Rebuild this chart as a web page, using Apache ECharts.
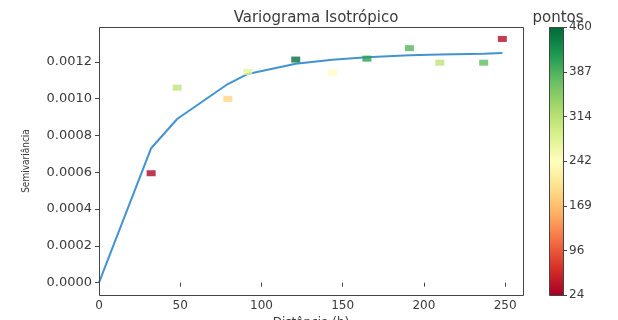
<!DOCTYPE html>
<html>
<head>
<meta charset="utf-8">
<script src="https://cdn.jsdelivr.net/npm/echarts@6/dist/echarts.min.js"></script>
<style>
  html, body { margin: 0; padding: 0; background: #fff; }
  #chart { width: 618px; height: 320px; }
</style>
</head>
<body>
<div id="chart"></div>
<script>
// Experimental variogram: lag distance, semivariance and number of point pairs per lag
const lagDist = [32.1, 48.1, 79.3, 91.6, 121.1, 143.6, 164.9, 191.1, 209.8, 236.8, 248.3];
const semivar = [0.000595, 0.00106, 0.000999, 0.001146, 0.001213, 0.001142, 0.001218, 0.001275, 0.001196, 0.001196, 0.001325];
const pairCount = [30, 307, 190, 272, 451, 245, 408, 382, 310, 375, 35];

// Fitted model evaluated at the origin and at each lag
const modelDist = [0, 32.1, 48.1, 79.3, 91.6, 121.1, 143.6, 164.9, 191.1, 209.8, 236.8, 248.3];
const modelVal = [0, 0.000731, 0.00089, 0.00108, 0.001135, 0.00119, 0.001212, 0.001225, 0.001236, 0.00124, 0.001245, 0.001249];

const yTicks = [0, 0.0002, 0.0004, 0.0006, 0.0008, 0.0010, 0.0012];
const cbTicks = [24, 96, 169, 242, 314, 387, 460];
const cbMin = 24, cbMax = 460;

// RdYlGn colormap
const rdYlGn = ['#a50026', '#d73027', '#f46d43', '#fdae61', '#fee08b', '#ffffbf',
                '#d9ef8b', '#a6d96a', '#66bd63', '#1a9850', '#006837'];

const font = 'DejaVu Sans';
const ink = '#3a3a3a';
const edge = '#444';
const spine = { show: true, onZero: false, lineStyle: { color: edge, width: 1 } };

// panel boxes: main plot and colour bar
const plotBox = { left: 99, top: 27, width: 424, height: 268 };
const barBox = { left: 549, top: 27, width: 14, height: 268 };

// outline drawn in absolute pixels, half-pixel aligned for a crisp 1px stroke
function frame(box) {
  return {
    type: 'rect', z: 100, silent: true,
    shape: { x: box.left + 0.5, y: box.top + 0.5, width: box.width, height: box.height },
    style: { fill: 'none', stroke: edge, lineWidth: 1 }
  };
}

const chart = echarts.init(document.getElementById('chart'));

const scatterData = lagDist.map((d, i) => [d, semivar[i], pairCount[i]]);
const lineData = modelDist.map((d, i) => [d, modelVal[i]]);

chart.setOption({
  animation: false,
  backgroundColor: '#ffffff',
  title: [
    { text: 'Variograma Isotrópico', left: 311, top: 6, textAlign: 'center',
      textStyle: { fontFamily: font, fontSize: 15, fontWeight: 'normal', color: ink } },
    { text: 'pontos', left: 553, top: 6, textAlign: 'center',
      textStyle: { fontFamily: font, fontSize: 15, fontWeight: 'normal', color: ink } }
  ],
  grid: [
    Object.assign({ outerBoundsMode: 'none' }, plotBox),
    Object.assign({ outerBoundsMode: 'none' }, barBox)
  ],
  graphic: [frame(plotBox), frame(barBox)],
  xAxis: [
    {
      gridIndex: 0, type: 'value', min: 0, max: 261, interval: 50,
      name: 'Distância (h)', nameLocation: 'middle', nameGap: 20,
      nameTextStyle: { fontFamily: font, fontSize: 12, color: ink },
      axisLine: { show: false },
      axisTick: { show: true, length: 4, lineStyle: { color: edge } },
      axisLabel: { fontFamily: font, fontSize: 12, color: ink, margin: 5,
        formatter: v => (v > 250 ? '' : String(v)) },
      splitLine: { show: false }
    },
    {
      gridIndex: 1, type: 'category', data: ['pontos'],
      axisLine: { show: false }, axisTick: { show: false }, axisLabel: { show: false }
    }
  ],
  yAxis: [
    {
      gridIndex: 0, type: 'value', min: -0.0000669, max: 0.00139,
      name: 'Semivariância', nameLocation: 'middle', nameGap: 68,
      nameTextStyle: { fontFamily: 'DejaVu Sans Condensed', fontSize: 10, color: ink },
      axisLine: { show: false },
      axisTick: { show: true, length: 4, lineStyle: { color: edge }, customValues: yTicks },
      axisLabel: { fontFamily: font, fontSize: 13, color: ink, margin: 7,
        customValues: yTicks, formatter: v => v.toFixed(4) },
      splitLine: { show: false }
    },
    {
      gridIndex: 1, type: 'value', min: cbMin, max: cbMax, position: 'right',
      axisLine: { show: false },
      axisTick: { show: true, length: 4, lineStyle: { color: edge }, customValues: cbTicks },
      axisLabel: { fontFamily: font, fontSize: 12, color: ink, margin: 6,
        customValues: cbTicks, formatter: v => String(v) },
      splitLine: { show: false }
    }
  ],
  visualMap: {
    type: 'continuous', show: false, min: cbMin, max: cbMax,
    dimension: 2, seriesIndex: 1, inRange: { color: rdYlGn }
  },
  series: [
    {
      type: 'line', xAxisIndex: 0, yAxisIndex: 0, data: lineData,
      showSymbol: false, symbol: 'none',
      lineStyle: { color: '#4393d0', width: 2 }, z: 2
    },
    {
      type: 'scatter', xAxisIndex: 0, yAxisIndex: 0, data: scatterData,
      symbol: 'rect', symbolSize: [9, 6], z: 3
    },
    {
      type: 'bar', xAxisIndex: 1, yAxisIndex: 1, data: [cbMax], barWidth: '100%',
      clip: true, silent: true, z: 1,
      itemStyle: {
        color: new echarts.graphic.LinearGradient(0, 1, 0, 0,
          rdYlGn.map((c, i) => ({ offset: i / (rdYlGn.length - 1), color: c })))
      }
    }
  ]
});
</script>
</body>
</html>
